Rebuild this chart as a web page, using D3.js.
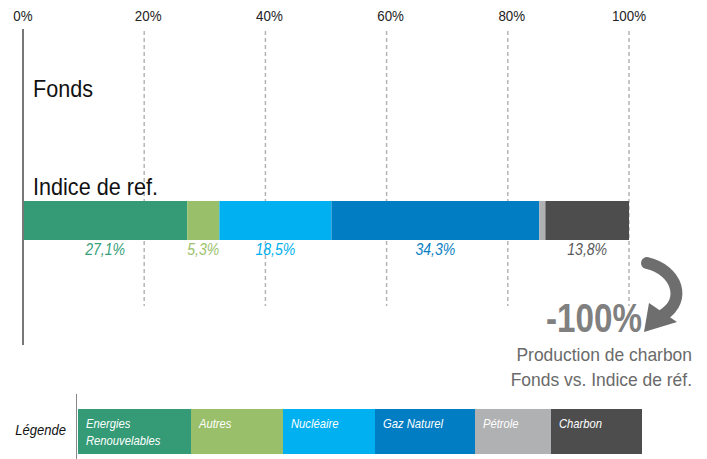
<!DOCTYPE html>
<html>
<head>
<meta charset="utf-8">
<script src="https://cdn.jsdelivr.net/npm/d3@7"></script>
<style>
  body { margin: 0; background: #fff; }
  svg { display: block; font-family: 'Liberation Sans', Arial, sans-serif; }
</style>
</head>
<body>
<svg id="chart" width="707" height="459"></svg>
<script>
// data
var categories = ["Energies Renouvelables", "Autres", "Nucléaire", "Gaz Naturel", "Pétrole", "Charbon"];
var rows = ["Fonds", "Indice de ref."];
var indiceValues = [27.1, 5.3, 18.5, 34.3, 1.0, 13.8];
var fondsValues = [0, 0, 0, 0, 0, 0];
var showLabel = [true, true, true, true, false, true];
var tickValues = [0, 20, 40, 60, 80, 100];
var coalChange = "-100%";
var coalText = ["Production de charbon", "Fonds vs. Indice de réf."];

var colors = ["#349b76", "#9abf6a", "#00b0f0", "#007dc3", "#b0b1b3", "#4d4d4d"];
var labelColors = ["#35a07a", "#9bc26b", "#00b0f0", "#0a7fc4", "#b0b1b3", "#5a5a5a"];

// layout
var legendEdges = [77, 190, 282, 374, 474, 550, 641];

var svg = d3.select("#chart");

var x = d3.scaleLinear().domain([0, 100]).range([23, 629]);
var y = d3.scaleBand().domain(rows).range([103, 240]).paddingInner(0.602).paddingOuter(0);

var fmt = function(v) { return d3.format(".1f")(v).replace(".", ",") + "%"; };

// no narrow font available, so squeeze text horizontally
function condense(sel, k) {
  sel.each(function() {
    var t = d3.select(this);
    var tx = +t.attr("x") || 0, ty = +t.attr("y") || 0;
    t.attr("x", 0).attr("y", 0)
     .attr("transform", "translate(" + tx + "," + ty + ") scale(" + k + ",1)");
  });
}

// grid lines
svg.append("g")
  .selectAll("line")
  .data(tickValues.filter(function(d) { return d > 0; }))
  .join("line")
  .attr("x1", function(d) { return x(d); })
  .attr("x2", function(d) { return x(d); })
  .attr("y1", 31)
  .attr("y2", 306)
  .style("stroke", "#b5b5b5")
  .style("stroke-width", 1.5)
  .style("stroke-dasharray", "4,3");

// top axis labels
svg.append("g")
  .selectAll("text")
  .data(tickValues)
  .join("text")
  .attr("x", function(d) { return x(d) + (d > 0 && d < 100 ? 4 : 0); })
  .attr("y", 21)
  .attr("text-anchor", "middle")
  .style("font-size", "14.5px")
  .style("fill", "#222")
  .text(function(d) { return d + "%"; })
  .call(condense, 0.92);

// bars
function drawRow(rowName, values) {
  var ends = d3.cumsum(values);
  var starts = values.map(function(v, i) { return ends[i] - v; });
  var items = values.map(function(v, i) { return { v: v, i: i, s: starts[i], e: ends[i] }; })
    .filter(function(d) { return d.v > 0; });
  var g = svg.append("g");
  g.selectAll("rect")
    .data(items)
    .join("rect")
    .attr("x", function(d) { return x(d.s); })
    .attr("width", function(d) { return x(d.e) - x(d.s); })
    .attr("y", y(rowName))
    .attr("height", y.bandwidth())
    .style("fill", function(d) { return colors[d.i]; });
  g.selectAll("text")
    .data(items.filter(function(d) { return showLabel[d.i]; }))
    .join("text")
    .attr("x", function(d) { return (x(d.s) + x(d.e)) / 2; })
    .attr("y", y(rowName) + y.bandwidth() + 15)
    .attr("text-anchor", "middle")
    .style("font-size", "16px")
    .style("font-style", "italic")
    .style("fill", function(d) { return labelColors[d.i]; })
    .text(function(d) { return fmt(d.v); })
    .call(condense, 0.88);
}
drawRow("Fonds", fondsValues);
drawRow("Indice de ref.", indiceValues);

// row labels
svg.append("g")
  .selectAll("text")
  .data(rows)
  .join("text")
  .attr("x", 33)
  .attr("y", function(d) { return y(d) - 6; })
  .style("font-size", "23.5px")
  .style("fill", "#111")
  .text(function(d) { return d; })
  .call(condense, 0.92);

// axis line
svg.append("line")
  .attr("x1", x(0)).attr("x2", x(0))
  .attr("y1", 29).attr("y2", 345)
  .style("stroke", "#777")
  .style("stroke-width", 2);

// curved arrow
var body = d3.path();
body.moveTo(647, 263);
body.bezierCurveTo(677, 270, 687, 300, 663, 315);
svg.append("path")
  .attr("d", body.toString())
  .style("fill", "none")
  .style("stroke", "#6e6e6e")
  .style("stroke-width", 12)
  .style("stroke-linecap", "round");
var head = d3.path();
head.moveTo(644, 332);
head.lineTo(649, 303);
head.lineTo(677, 322);
head.closePath();
svg.append("path")
  .attr("d", head.toString())
  .style("fill", "#6e6e6e");

// coal change text
svg.append("text")
  .attr("x", 642)
  .attr("y", 332)
  .attr("text-anchor", "end")
  .style("font-size", "40px")
  .style("font-weight", "bold")
  .style("fill", "#808080")
  .text(coalChange)
  .call(condense, 0.83);

svg.append("g")
  .selectAll("text")
  .data(coalText)
  .join("text")
  .attr("x", 692)
  .attr("y", function(d, i) { return 361 + i * 25; })
  .attr("text-anchor", "end")
  .style("font-size", "18px")
  .style("fill", "#6a6a6a")
  .text(function(d) { return d; })
  .call(condense, 0.97);

// legend
svg.append("text")
  .attr("x", 66)
  .attr("y", 435)
  .attr("text-anchor", "end")
  .style("font-size", "14.5px")
  .style("font-style", "italic")
  .style("fill", "#111")
  .text("Légende")
  .call(condense, 0.9);

svg.append("line")
  .attr("x1", 76.5).attr("x2", 76.5)
  .attr("y1", 394).attr("y2", 459)
  .style("stroke", "#888")
  .style("stroke-width", 1);

var lg = svg.append("g")
  .selectAll("g")
  .data(categories)
  .join("g");
lg.append("rect")
  .attr("x", function(d, i) { return legendEdges[i] + 1; })
  .attr("y", 409)
  .attr("width", function(d, i) { return legendEdges[i + 1] - legendEdges[i]; })
  .attr("height", 45)
  .style("fill", function(d, i) { return colors[i]; });
lg.append("text")
  .attr("transform", function(d, i) { return "translate(" + (legendEdges[i] + 9) + ",428) scale(0.9,1)"; })
  .style("font-size", "12.5px")
  .style("font-style", "italic")
  .style("fill", "#fff")
  .selectAll("tspan")
  .data(function(d) { return d === "Energies Renouvelables" ? ["Energies", "Renouvelables"] : [d]; })
  .join("tspan")
  .attr("x", 0)
  .attr("dy", function(d, i) { return i ? 17 : 0; })
  .text(function(d) { return d; });
</script>
</body>
</html>
